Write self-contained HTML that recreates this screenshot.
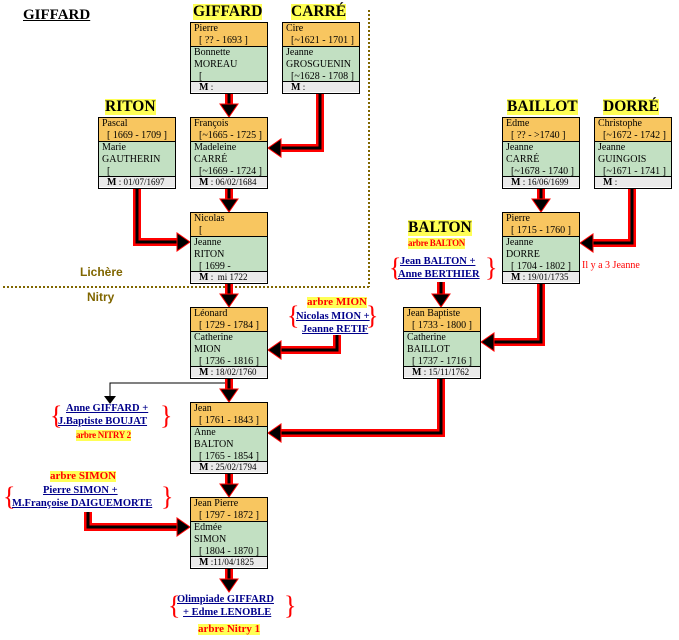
<!DOCTYPE html>
<html><head><meta charset="utf-8">
<style>
*{margin:0;padding:0;box-sizing:border-box}
body{width:679px;height:640px;background:#fff;position:relative;overflow:hidden;font-family:"Liberation Serif",serif;}
.a{position:absolute;white-space:nowrap}
.box{position:absolute;width:78px;height:72px;border:1px solid #000;font-size:10px;line-height:12px;color:#000}
.o{height:24px;background:#F8C660;padding-left:3px;border-bottom:1px solid #000}
.g{height:35px;background:#C2E0C2;padding-left:3px;border-bottom:1px solid #000}
.m{height:10px;background:#EAEAEA;padding-left:8px;line-height:10px;font-size:9px}
.m b{font-size:10px}
.i{padding-left:5px}
.t{position:absolute;font-weight:bold;font-size:15.5px;background:#FFFF55;line-height:16px;white-space:nowrap;font-family:"Liberation Serif",serif}
.l{position:absolute;font-weight:bold;font-size:10.5px;color:#00008B;text-decoration:underline;white-space:nowrap;line-height:13px;text-align:center}
.y{position:absolute;font-weight:bold;font-size:11px;color:#f00;background:#FFFF55;white-space:nowrap;line-height:11px}
.br{position:absolute;color:#f00;font-size:26px;line-height:26px;font-family:"Liberation Serif",serif}
.ol{position:absolute;color:#806600;font-family:"Liberation Sans",sans-serif;font-weight:bold;font-size:12px}
</style></head><body>

<svg class="a" style="left:0;top:0" width="679" height="640">
<g fill="none" stroke="#806600" stroke-width="2" stroke-dasharray="2,2">
<line x1="369" y1="10" x2="369" y2="287"/>
<line x1="3" y1="287" x2="370" y2="287"/>
</g>
<polyline points="229,383 110,383 110,398" fill="none" stroke="#000" stroke-width="1"/>
<polygon points="104,396 116,396 110,404" fill="#000"/>
<g fill="none" stroke="#f00" stroke-width="8" stroke-linejoin="miter">
<polyline points="229,93 229,108"/>
<polyline points="320,93 320,148 278,148"/>
<polyline points="137,188 137,242 180,242"/>
<polyline points="229,188 229,203"/>
<polyline points="229,283 229,298"/>
<polyline points="337,335 337,350 278,350"/>
<polyline points="229,378 229,393"/>
<polyline points="541,188 541,203"/>
<polyline points="632,188 632,243 590,243"/>
<polyline points="541,283 541,342 491,342"/>
<polyline points="441,282 441,298"/>
<polyline points="441,378 441,433 278,433"/>
<polyline points="229,473 229,488"/>
<polyline points="88,512 88,527 180,527"/>
<polyline points="229,568 229,583"/>
</g>
<g fill="none" stroke="#000" stroke-width="3" stroke-linejoin="miter">
<polyline points="229,93 229,108"/>
<polyline points="320,93 320,148 278,148"/>
<polyline points="137,188 137,242 180,242"/>
<polyline points="229,188 229,203"/>
<polyline points="229,283 229,298"/>
<polyline points="337,335 337,350 278,350"/>
<polyline points="229,378 229,393"/>
<polyline points="541,188 541,203"/>
<polyline points="632,188 632,243 590,243"/>
<polyline points="541,283 541,342 491,342"/>
<polyline points="441,282 441,298"/>
<polyline points="441,378 441,433 278,433"/>
<polyline points="229,473 229,488"/>
<polyline points="88,512 88,527 180,527"/>
<polyline points="229,568 229,583"/>
</g>
<g fill="#000" stroke="#f00" stroke-width="1">
<polygon points="220,104 238,104 229,117"/>
<polygon points="220,199 238,199 229,212"/>
<polygon points="220,294 238,294 229,307"/>
<polygon points="220,389 238,389 229,402"/>
<polygon points="220,484 238,484 229,497"/>
<polygon points="220,579 238,579 229,592"/>
<polygon points="532,199 550,199 541,212"/>
<polygon points="432,294 450,294 441,307"/>
<polygon points="281,139 281,157 268,148"/>
<polygon points="281,341 281,359 268,350"/>
<polygon points="281,424 281,442 268,433"/>
<polygon points="593,234 593,252 580,243"/>
<polygon points="494,333 494,351 481,342"/>
<polygon points="177,233 177,251 190,242"/>
<polygon points="177,518 177,536 190,527"/>
</g>
</svg>

<div class="a" style="left:23px;top:7px;font-weight:bold;font-size:15px;text-decoration:underline">GIFFARD</div>
<div class="ol" style="left:80px;top:265px">Lichère</div>
<div class="ol" style="left:87px;top:290px">Nitry</div>

<div class="t" style="left:193px;top:4px">GIFFARD</div>
<div class="t" style="left:291px;top:4px">CARRÉ</div>
<div class="t" style="left:105px;top:99px">RITON</div>
<div class="t" style="left:507px;top:99px">BAILLOT</div>
<div class="t" style="left:603px;top:99px">DORRÉ</div>
<div class="t" style="left:408px;top:220px">BALTON</div>
<div class="y" style="left:408px;top:238px;font-size:9px;letter-spacing:-0.3px">arbre BALTON</div>

<div class="box" style="left:190px;top:22px"><div class="o">Pierre<br><span class="i">[ ?? - 1693 ]</span></div><div class="g">Bonnette<br>MOREAU<br><span class="i">[</span></div><div class="m"><b>M</b> :</div></div>
<div class="box" style="left:282px;top:22px"><div class="o">Cire<br><span class="i">[~1621 - 1701 ]</span></div><div class="g">Jeanne<br>GROSGUENIN<br><span class="i">[~1628 - 1708 ]</span></div><div class="m"><b>M</b> :</div></div>
<div class="box" style="left:98px;top:117px"><div class="o">Pascal<br><span class="i">[ 1669 - 1709 ]</span></div><div class="g">Marie<br>GAUTHERIN<br><span class="i">[</span></div><div class="m"><b>M</b> : 01/07/1697</div></div>
<div class="box" style="left:190px;top:117px"><div class="o">François<br><span class="i">[~1665 - 1725 ]</span></div><div class="g">Madeleine<br>CARRÉ<br><span class="i">[~1669 - 1724 ]</span></div><div class="m"><b>M</b> : 06/02/1684</div></div>
<div class="box" style="left:190px;top:212px"><div class="o">Nicolas<br><span class="i">[</span></div><div class="g">Jeanne<br>RITON<br><span class="i">[ 1699 -</span></div><div class="m"><b>M</b> :&nbsp; mi 1722</div></div>
<div class="box" style="left:190px;top:307px"><div class="o">Léonard<br><span class="i">[ 1729 - 1784 ]</span></div><div class="g">Catherine<br>MION<br><span class="i">[ 1736 - 1816 ]</span></div><div class="m"><b>M</b> : 18/02/1760</div></div>
<div class="box" style="left:190px;top:402px"><div class="o">Jean<br><span class="i">[ 1761 - 1843 ]</span></div><div class="g">Anne<br>BALTON<br><span class="i">[ 1765 - 1854 ]</span></div><div class="m"><b>M</b> : 25/02/1794</div></div>
<div class="box" style="left:190px;top:497px"><div class="o">Jean Pierre<br><span class="i">[ 1797 - 1872 ]</span></div><div class="g">Edmée<br>SIMON<br><span class="i">[ 1804 - 1870 ]</span></div><div class="m"><b>M</b> :11/04/1825</div></div>
<div class="box" style="left:502px;top:117px"><div class="o">Edme<br><span class="i">[ ?? - &gt;1740 ]</span></div><div class="g">Jeanne<br>CARRÉ<br><span class="i">[~1678 - 1740 ]</span></div><div class="m"><b>M</b> : 16/06/1699</div></div>
<div class="box" style="left:594px;top:117px"><div class="o">Christophe<br><span class="i">[~1672 - 1742 ]</span></div><div class="g">Jeanne<br>GUINGOIS<br><span class="i">[~1671 - 1741 ]</span></div><div class="m"><b>M</b> :</div></div>
<div class="box" style="left:502px;top:212px"><div class="o">Pierre<br><span class="i">[ 1715 - 1760 ]</span></div><div class="g">Jeanne<br>DORRE<br><span class="i">[ 1704 - 1802 ]</span></div><div class="m"><b>M</b> : 19/01/1735</div></div>
<div class="box" style="left:403px;top:307px"><div class="o">Jean Baptiste<br><span class="i">[ 1733 - 1800 ]</span></div><div class="g">Catherine<br>BAILLOT<br><span class="i">[ 1737 - 1716 ]</span></div><div class="m"><b>M</b> : 15/11/1762</div></div>

<div class="a" style="left:582px;top:260px;color:#f00;font-size:10px">Il y a 3 Jeanne</div>

<div class="y" style="left:307px;top:297px">arbre MION</div>
<div class="br" style="left:287px;top:303px">{</div><div class="br" style="left:366px;top:303px">}</div>
<div class="l" style="left:296px;top:310px">Nicolas MION +</div>
<div class="l" style="left:302px;top:323px">Jeanne RETIF</div>

<div class="br" style="left:389px;top:255px">{</div><div class="br" style="left:485px;top:255px">}</div>
<div class="l" style="left:400px;top:255px">Jean BALTON +</div>
<div class="l" style="left:398px;top:268px">Anne BERTHIER</div>

<div class="br" style="left:50px;top:403px">{</div><div class="br" style="left:160px;top:403px">}</div>
<div class="l" style="left:66px;top:402px">Anne GIFFARD +</div>
<div class="l" style="left:58px;top:415px">J.Baptiste BOUJAT</div>
<div class="y" style="left:76px;top:430px;font-size:9px;letter-spacing:-0.3px">arbre NITRY 2</div>

<div class="y" style="left:50px;top:471px">arbre SIMON</div>
<div class="br" style="left:3px;top:484px">{</div><div class="br" style="left:161px;top:484px">}</div>
<div class="l" style="left:43px;top:484px">Pierre SIMON +</div>
<div class="l" style="left:12px;top:497px">M.Françoise DAIGUEMORTE</div>

<div class="br" style="left:168px;top:593px">{</div><div class="br" style="left:284px;top:593px">}</div>
<div class="l" style="left:177px;top:593px">Olimpiade GIFFARD</div>
<div class="l" style="left:183px;top:606px">+ Edme LENOBLE</div>
<div class="y" style="left:198px;top:624px">arbre Nitry 1</div>

</body></html>
